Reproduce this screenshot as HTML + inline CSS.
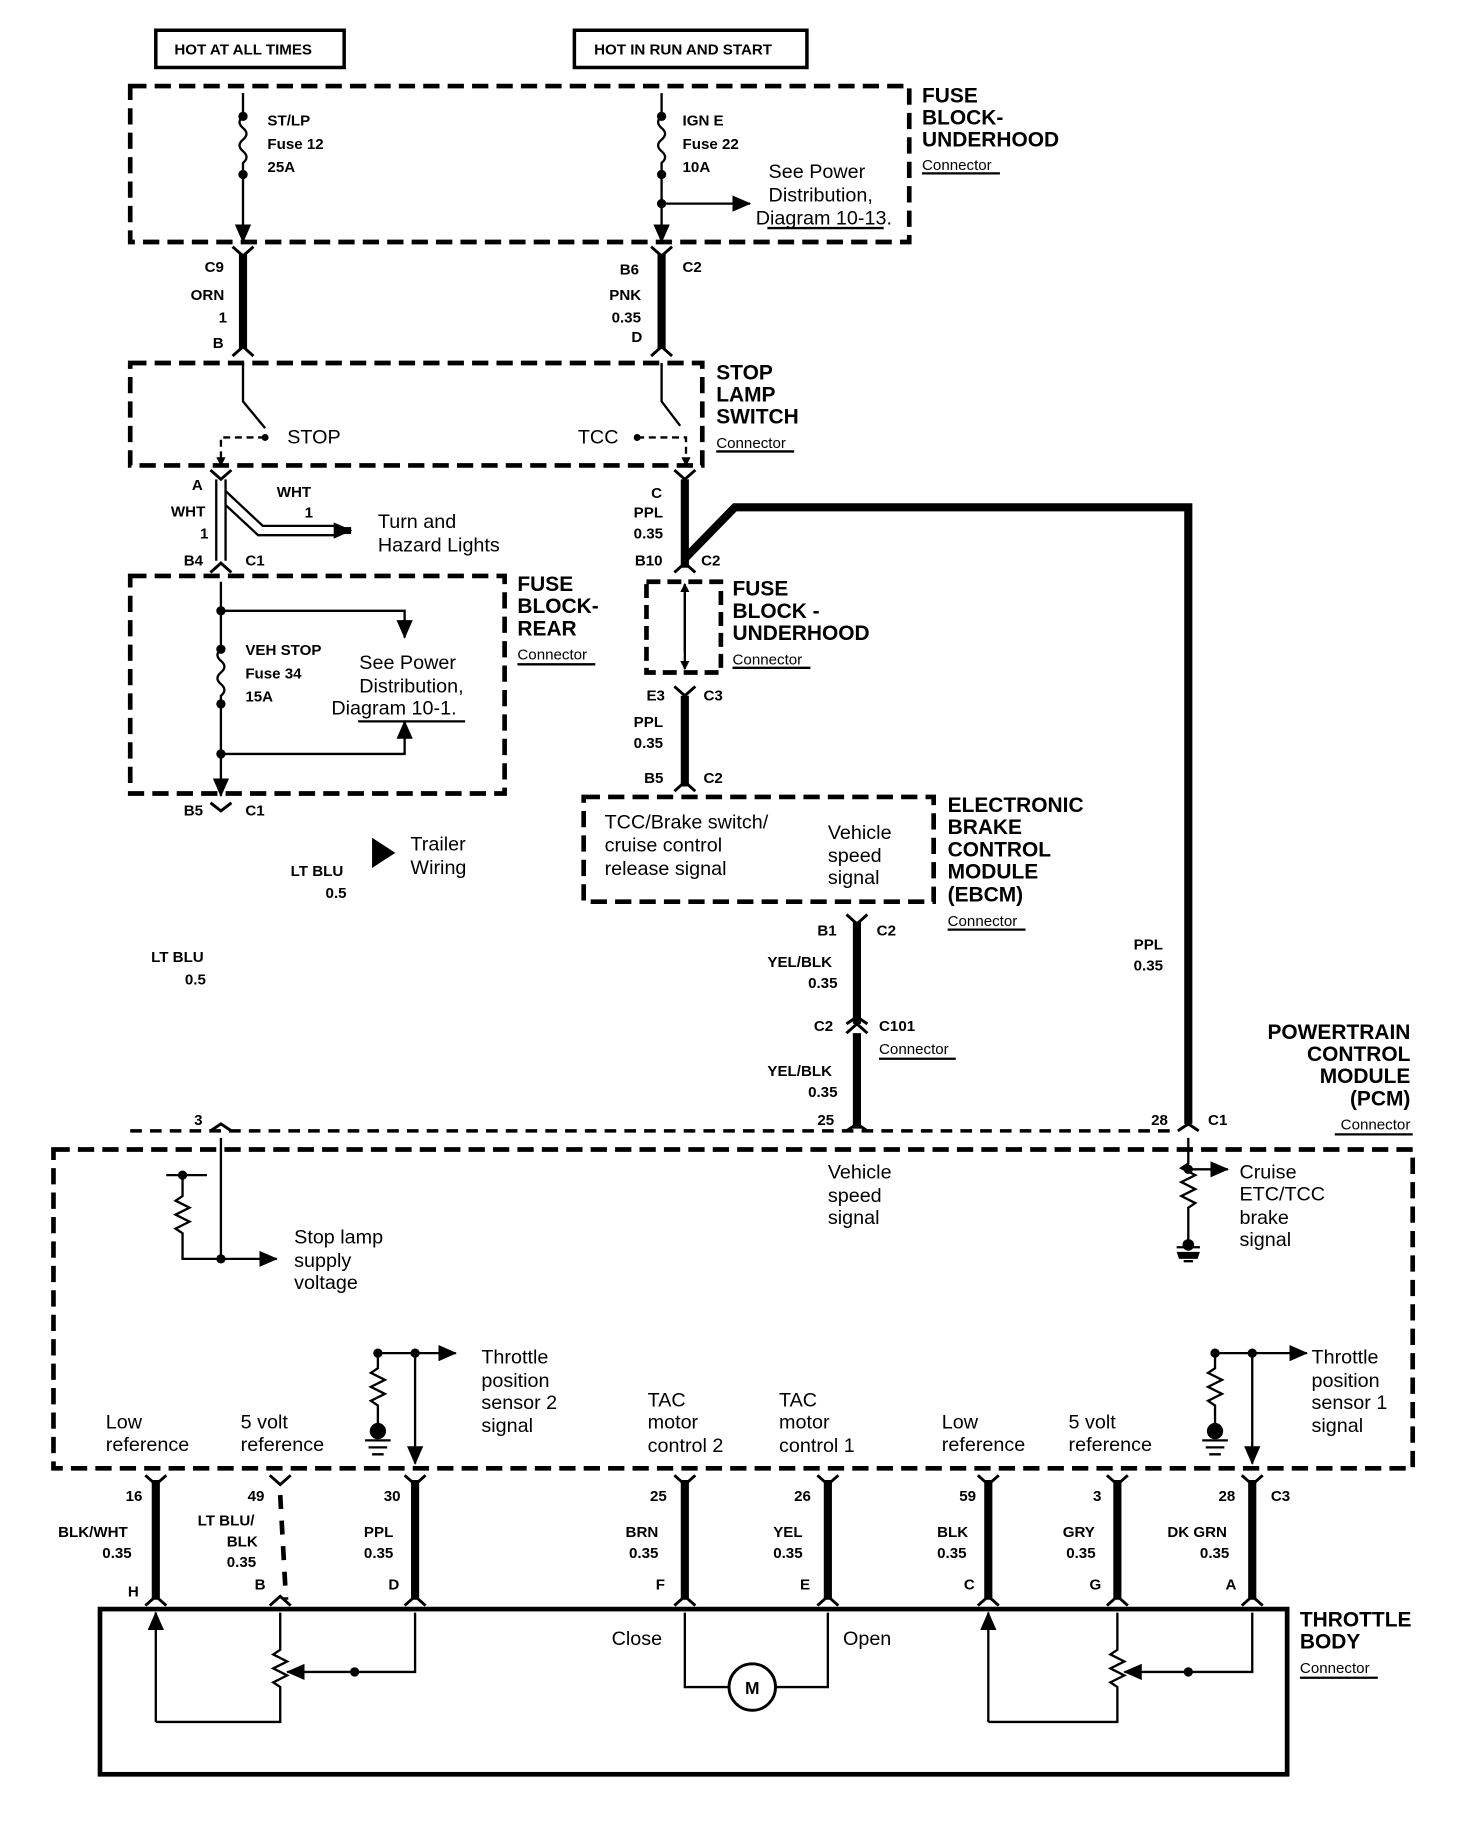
<!DOCTYPE html>
<html><head><meta charset="utf-8"><style>
html,body{margin:0;padding:0;background:#fff}
svg{display:block}
text{font-family:"Liberation Sans",Arial,sans-serif;fill:#000}
.b{font-weight:bold;font-size:13px}
.r{font-size:17px}
.h{font-weight:bold;font-size:18px}
.c{font-size:13px}
</style></head><body>
<svg width="1472" height="1822" viewBox="0 0 1266 1566" preserveAspectRatio="none" xmlns="http://www.w3.org/2000/svg">
<defs>
<marker id="ar" markerWidth="8" markerHeight="8" refX="7" refY="4" orient="auto" markerUnits="userSpaceOnUse"><path d="M0,0 L8,4 L0,8 z" fill="#000"/></marker>
<marker id="ab" markerWidth="16" markerHeight="14" refX="15" refY="7" orient="auto" markerUnits="userSpaceOnUse"><path d="M0,0 L16,7 L0,14 z" fill="#000"/></marker>
</defs>
<g fill="none" stroke="#000" stroke-width="2">
<rect x="134" y="26" width="162" height="32" stroke-width="3"/>
<rect x="494" y="26" width="200" height="32" stroke-width="3"/>
<rect x="112" y="74" width="670" height="134" stroke-width="4" stroke-dasharray="14,7"/>
<path d="M209,80 V100 M209,150 V208" marker-end="url(#ab)"/>
<path d="M209,100 q-6,5 0,10 q6,5 0,10 q-6,5 0,10 q6,5 0,10 V150"/>
<path d="M569,80 V100 M569,150 V208" marker-end="url(#ab)"/>
<path d="M569,100 q-6,5 0,10 q6,5 0,10 q-6,5 0,10 q6,5 0,10 V150"/>
<path d="M569,175 H645" marker-end="url(#ab)"/>
<path d="M660,196 H760 M308,620 H400"/>
</g>
<g fill="#000">
<circle cx="209" cy="100" r="4"/><circle cx="209" cy="150" r="4"/>
<circle cx="569" cy="100" r="4"/><circle cx="569" cy="150" r="4"/><circle cx="569" cy="175" r="4"/>
</g>
<g stroke="#000" stroke-width="7" fill="none">
<path d="M209,218 V300"/><path d="M569,218 V300"/>
<path d="M589,412 V488"/>
<path d="M589,480 L632,436 H1022 V966"/>
<path d="M589,598 V676"/>
<path d="M737,792 V880 M737,888 V970"/>
<path d="M134,1272 V1375 M357,1272 V1375 M589,1272 V1375 M712,1272 V1375 M850,1272 V1375 M961,1272 V1375 M1077,1272 V1375"/>
</g>
<path d="M241,1285 L246,1375" stroke="#000" stroke-width="4" stroke-dasharray="12,10" fill="none"/>
<g stroke="#000" stroke-width="2.5" fill="none">
<path d="M200,212 L209,220 L218,212 M200,306 L209,298 L218,306"/>
<path d="M560,212 L569,220 L578,212 M560,306 L569,298 L578,306"/>
<path d="M181,404 L190,412 L199,404 M580,404 L589,412 L598,404"/>
<path d="M181,492 L190,484 L199,492 M580,492 L589,484 L598,492"/>
<path d="M580,590 L589,598 L598,590 M580,680 L589,672 L598,680"/>
<path d="M181,690 L190,697 L199,690"/>
<path d="M728,786 L737,794 L746,786 M728,888 L737,880 L746,888 M728,880 L737,874 L746,880"/>
<path d="M181,972 L190,966 L199,972 M728,972 L737,966 L746,972 M1013,972 L1022,966 L1031,972"/>
<path d="M125,1268 L134,1276 L143,1268 M232,1268 L241,1276 L250,1268 M348,1268 L357,1276 L366,1268 M580,1268 L589,1276 L598,1268 M703,1268 L712,1276 L721,1268 M841,1268 L850,1276 L859,1268 M952,1268 L961,1276 L970,1268 M1068,1268 L1077,1276 L1086,1268"/>
<path d="M125,1380 L134,1372 L143,1380 M232,1380 L241,1372 L250,1380 M348,1380 L357,1372 L366,1380 M580,1380 L589,1372 L598,1380 M703,1380 L712,1372 L721,1380 M841,1380 L850,1372 L859,1380 M952,1380 L961,1372 L970,1380 M1068,1380 L1077,1372 L1086,1380"/>
</g>
<g fill="none" stroke="#000" stroke-width="2">
<rect x="112" y="312" width="492" height="88" stroke-width="4" stroke-dasharray="14,7"/>
<path d="M209,312 V345 L228,368"/>
<path d="M228,376 H190 V400" stroke-dasharray="6,4" marker-end="url(#ar)"/>
<path d="M569,312 V345 L585,366"/>
<path d="M548,376 H590 V400" stroke-dasharray="6,4" marker-end="url(#ar)"/>
<path d="M186,412 V482 M194,412 V482" stroke-width="2"/>
<path d="M194,422 L226,452 H290 M194,434 L222,460 H290" stroke-width="2"/>
<path d="M290,456 H302" stroke-width="6" marker-end="url(#ab)"/>
<rect x="112" y="495" width="322" height="187" stroke-width="4" stroke-dasharray="14,7"/>
<path d="M190,500 V558 M190,605 V684" marker-end="url(#ab)"/>
<path d="M190,558 q-6,5 0,10 q6,5 0,10 q-6,5 0,10 q6,5 0,10 V605"/>
<path d="M190,525 H348 V548" marker-end="url(#ab)"/>
<path d="M190,648 H348 V620" marker-end="url(#ab)"/>
<rect x="556" y="500" width="64" height="78" stroke-width="4" stroke-dasharray="12,6"/>
<path d="M589,510 V575" marker-end="url(#ar)"/><path d="M589,560 V502" marker-end="url(#ar)"/>
<rect x="502" y="685" width="301" height="90" stroke-width="4" stroke-dasharray="14,7"/>
<path d="M112,972 H1010" stroke-width="3" stroke-dasharray="10,7"/>
<rect x="46" y="988" width="1169" height="274" stroke-width="4" stroke-dasharray="14,7"/>
<path d="M190,978 V1082 H238" marker-end="url(#ab)"/>
<path d="M143,1010 H178 M157,1010 V1028 l-6,4 12,6 -12,6 12,6 -12,6 6,4 V1082 H190"/>
<path d="M1022,978 V1000 l-6,4 12,6 -12,6 12,6 -12,6 12,6 -6,4 V1072"/>
<path d="M1012,1072 H1032 M1015,1078 H1029 M1018,1084 H1026"/>
<path d="M1022,1005 H1056" marker-end="url(#ab)"/>
<path d="M357,1163 V1258" marker-end="url(#ab)"/>
<path d="M325,1163 H392" marker-end="url(#ab)"/>
<path d="M325,1163 V1176 l-6,4 12,6 -12,6 12,6 -12,6 6,4 V1228 M314,1238 H336 M317,1244 H333 M320,1250 H330"/>
<path d="M1077,1163 V1258" marker-end="url(#ab)"/>
<path d="M1045,1163 H1124" marker-end="url(#ab)"/>
<path d="M1045,1163 V1176 l-6,4 12,6 -12,6 12,6 -12,6 6,4 V1228 M1034,1238 H1056 M1037,1244 H1053 M1040,1250 H1050"/>
<rect x="86" y="1383" width="1021" height="142" stroke-width="4"/>
<path d="M134,1480 V1386" marker-end="url(#ab)"/>
<path d="M134,1480 H241 V1450 l-6,-4 12,-6 -12,-6 12,-6 -12,-6 6,-4 V1386" />
<path d="M305,1437 H247" marker-end="url(#ab)"/>
<path d="M357,1386 V1437 H305"/>
<path d="M589,1386 V1450 H627 M667,1450 H712 V1386"/>
<circle cx="647" cy="1450" r="20" stroke-width="2.5"/>
<path d="M850,1480 V1386" marker-end="url(#ab)"/>
<path d="M850,1480 H961 V1450 l-6,-4 12,-6 -12,-6 12,-6 -12,-6 6,-4 V1386"/>
<path d="M1022,1437 H967" marker-end="url(#ab)"/>
<path d="M1077,1386 V1437 H1022"/>
<path d="M793,149 H860 M616,388 H683 M445,571 H512 M630,574 H697 M815,799 H882 M756,910 H822 M1148,975 H1215 M1118,1442 H1185"/>
</g>
<g fill="#000">
<circle cx="1022" cy="1070" r="5"/>
<path d="M1012,1076 h20 l-2,6 h-16z"/>
<circle cx="325" cy="1163" r="4"/><circle cx="325" cy="1230" r="7"/>
<circle cx="357" cy="1163" r="4"/>
<circle cx="1045" cy="1163" r="4"/><circle cx="1045" cy="1230" r="7"/>
<circle cx="1077" cy="1163" r="4"/>
<circle cx="190" cy="1082" r="4"/><circle cx="157" cy="1010" r="4"/>
<circle cx="1022" cy="1005" r="4"/>
<circle cx="190" cy="558" r="4"/><circle cx="190" cy="605" r="4"/>
<circle cx="190" cy="525" r="4"/><circle cx="190" cy="648" r="4"/>
<circle cx="228" cy="376" r="3"/><circle cx="548" cy="376" r="3"/>
<circle cx="305" cy="1437" r="4"/><circle cx="1022" cy="1437" r="4"/>
<path d="M320,720 L340,733 L320,746 z"/>
</g>
<text class="b" x="150" y="47">HOT AT ALL TIMES</text>
<text class="b" x="511" y="47">HOT IN RUN AND START</text>
<text class="b" x="230" y="108">ST/LP</text><text class="b" x="230" y="128">Fuse 12</text><text class="b" x="230" y="148">25A</text>
<text class="b" x="587" y="108">IGN E</text><text class="b" x="587" y="128">Fuse 22</text><text class="b" x="587" y="148">10A</text>
<text class="r" x="661" y="153">See Power</text><text class="r" x="661" y="173">Distribution,</text><text class="r" x="650" y="193">Diagram 10-13.</text>
<text class="h" x="793" y="88">FUSE</text><text class="h" x="793" y="107">BLOCK-</text><text class="h" x="793" y="126">UNDERHOOD</text><text class="c" x="793" y="146">Connector</text>
<text class="b" x="176" y="234">C9</text><text class="b" x="164" y="258">ORN</text><text class="b" x="188" y="277">1</text><text class="b" x="183" y="299">B</text>
<text class="b" x="533" y="236">B6</text><text class="b" x="587" y="234">C2</text><text class="b" x="524" y="258">PNK</text><text class="b" x="526" y="277">0.35</text><text class="b" x="543" y="294">D</text>
<text class="r" x="247" y="381">STOP</text><text class="r" x="497" y="381">TCC</text>
<text class="h" x="616" y="326">STOP</text><text class="h" x="616" y="345">LAMP</text><text class="h" x="616" y="364">SWITCH</text><text class="c" x="616" y="385">Connector</text>
<text class="b" x="165" y="421">A</text><text class="b" x="147" y="444">WHT</text><text class="b" x="172" y="463">1</text>
<text class="b" x="238" y="427">WHT</text><text class="b" x="262" y="445">1</text>
<text class="r" x="325" y="454">Turn and</text><text class="r" x="325" y="474">Hazard Lights</text>
<text class="b" x="158" y="486">B4</text><text class="b" x="211" y="486">C1</text>
<text class="h" x="445" y="508">FUSE</text><text class="h" x="445" y="527">BLOCK-</text><text class="h" x="445" y="546">REAR</text><text class="c" x="445" y="567">Connector</text>
<text class="b" x="211" y="563">VEH STOP</text><text class="b" x="211" y="583">Fuse 34</text><text class="b" x="211" y="603">15A</text>
<text class="r" x="309" y="575">See Power</text><text class="r" x="309" y="595">Distribution,</text><text class="r" x="285" y="614">Diagram 10-1.</text>
<text class="b" x="158" y="701">B5</text><text class="b" x="211" y="701">C1</text>
<text class="r" x="353" y="731">Trailer</text><text class="r" x="353" y="751">Wiring</text>
<text class="b" x="250" y="753">LT BLU</text><text class="b" x="280" y="772">0.5</text>
<text class="b" x="130" y="827">LT BLU</text><text class="b" x="159" y="846">0.5</text>
<text class="b" x="560" y="428">C</text><text class="b" x="545" y="445">PPL</text><text class="b" x="545" y="463">0.35</text>
<text class="b" x="546" y="486">B10</text><text class="b" x="603" y="486">C2</text>
<text class="h" x="630" y="512">FUSE</text><text class="h" x="630" y="531">BLOCK -</text><text class="h" x="630" y="550">UNDERHOOD</text><text class="c" x="630" y="571">Connector</text>
<text class="b" x="556" y="602">E3</text><text class="b" x="605" y="602">C3</text>
<text class="b" x="545" y="625">PPL</text><text class="b" x="545" y="643">0.35</text>
<text class="b" x="554" y="673">B5</text><text class="b" x="605" y="673">C2</text>
<text class="r" x="520" y="712">TCC/Brake switch/</text><text class="r" x="520" y="732">cruise control</text><text class="r" x="520" y="752">release signal</text>
<text class="r" x="712" y="721">Vehicle</text><text class="r" x="712" y="741">speed</text><text class="r" x="712" y="760">signal</text>
<text class="h" x="815" y="698">ELECTRONIC</text><text class="h" x="815" y="717">BRAKE</text><text class="h" x="815" y="736">CONTROL</text><text class="h" x="815" y="755">MODULE</text><text class="h" x="815" y="775">(EBCM)</text><text class="c" x="815" y="796">Connector</text>
<text class="b" x="703" y="804">B1</text><text class="b" x="754" y="804">C2</text>
<text class="b" x="660" y="831">YEL/BLK</text><text class="b" x="695" y="849">0.35</text>
<text class="b" x="700" y="886">C2</text><text class="b" x="756" y="886">C101</text><text class="c" x="756" y="906">Connector</text>
<text class="b" x="660" y="925">YEL/BLK</text><text class="b" x="695" y="943">0.35</text>
<text class="b" x="975" y="816">PPL</text><text class="b" x="975" y="834">0.35</text>
<text class="h" x="1213" y="893" text-anchor="end">POWERTRAIN</text><text class="h" x="1213" y="912" text-anchor="end">CONTROL</text><text class="h" x="1213" y="931" text-anchor="end">MODULE</text><text class="h" x="1213" y="950" text-anchor="end">(PCM)</text><text class="c" x="1213" y="971" text-anchor="end">Connector</text>
<text class="b" x="167" y="967">3</text><text class="b" x="703" y="967">25</text><text class="b" x="990" y="967">28</text><text class="b" x="1039" y="967">C1</text>
<text class="r" x="712" y="1013">Vehicle</text><text class="r" x="712" y="1033">speed</text><text class="r" x="712" y="1052">signal</text>
<text class="r" x="1066" y="1013">Cruise</text><text class="r" x="1066" y="1032">ETC/TCC</text><text class="r" x="1066" y="1052">brake</text><text class="r" x="1066" y="1071">signal</text>
<text class="r" x="253" y="1069">Stop lamp</text><text class="r" x="253" y="1089">supply</text><text class="r" x="253" y="1108">voltage</text>
<text class="r" x="414" y="1172">Throttle</text><text class="r" x="414" y="1192">position</text><text class="r" x="414" y="1211">sensor 2</text><text class="r" x="414" y="1231">signal</text>
<text class="r" x="1128" y="1172">Throttle</text><text class="r" x="1128" y="1192">position</text><text class="r" x="1128" y="1211">sensor 1</text><text class="r" x="1128" y="1231">signal</text>
<text class="r" x="91" y="1228">Low</text><text class="r" x="91" y="1247">reference</text>
<text class="r" x="207" y="1228">5 volt</text><text class="r" x="207" y="1247">reference</text>
<text class="r" x="557" y="1209">TAC</text><text class="r" x="557" y="1228">motor</text><text class="r" x="557" y="1248">control 2</text>
<text class="r" x="670" y="1209">TAC</text><text class="r" x="670" y="1228">motor</text><text class="r" x="670" y="1248">control 1</text>
<text class="r" x="810" y="1228">Low</text><text class="r" x="810" y="1247">reference</text>
<text class="r" x="919" y="1228">5 volt</text><text class="r" x="919" y="1247">reference</text>
<text class="b" x="108" y="1290">16</text><text class="b" x="213" y="1290">49</text><text class="b" x="330" y="1290">30</text><text class="b" x="559" y="1290">25</text><text class="b" x="683" y="1290">26</text><text class="b" x="825" y="1290">59</text><text class="b" x="940" y="1290">3</text><text class="b" x="1048" y="1290">28</text><text class="b" x="1093" y="1290">C3</text>
<text class="b" x="50" y="1321">BLK/WHT</text><text class="b" x="88" y="1339">0.35</text>
<text class="b" x="170" y="1311">LT BLU/</text><text class="b" x="195" y="1329">BLK</text><text class="b" x="195" y="1347">0.35</text>
<text class="b" x="313" y="1321">PPL</text><text class="b" x="313" y="1339">0.35</text>
<text class="b" x="538" y="1321">BRN</text><text class="b" x="541" y="1339">0.35</text>
<text class="b" x="665" y="1321">YEL</text><text class="b" x="665" y="1339">0.35</text>
<text class="b" x="806" y="1321">BLK</text><text class="b" x="806" y="1339">0.35</text>
<text class="b" x="914" y="1321">GRY</text><text class="b" x="917" y="1339">0.35</text>
<text class="b" x="1004" y="1321">DK GRN</text><text class="b" x="1032" y="1339">0.35</text>
<text class="b" x="110" y="1372">H</text><text class="b" x="219" y="1366">B</text><text class="b" x="334" y="1366">D</text><text class="b" x="564" y="1366">F</text><text class="b" x="688" y="1366">E</text><text class="b" x="829" y="1366">C</text><text class="b" x="937" y="1366">G</text><text class="b" x="1054" y="1366">A</text>
<text class="r" x="526" y="1414">Close</text><text class="r" x="725" y="1414">Open</text>
<text x="647" y="1456" text-anchor="middle" style="font-weight:bold;font-size:15px">M</text>
<text class="h" x="1118" y="1398">THROTTLE</text><text class="h" x="1118" y="1417">BODY</text><text class="c" x="1118" y="1438">Connector</text>
</svg>
</body></html>
